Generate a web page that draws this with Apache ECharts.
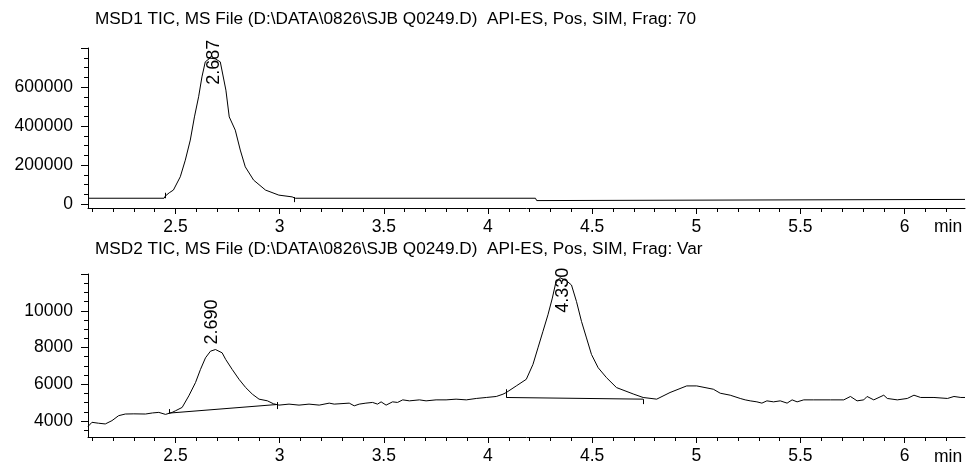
<!DOCTYPE html>
<html>
<head>
    <meta charset="utf-8">
    <title>MSD TIC</title>
    <style>
        html, body {
            margin: 0;
            padding: 0;
            background-color: #fff;
        }

        #chart {
            width: 967px;
            height: 465px;
        }
    </style>
</head>
<body>
    <div id="chart"></div>
</body>
<script type="text/javascript" src="https://cdn.jsdelivr.net/npm/echarts@6/dist/echarts.min.js"></script>
<script type="text/javascript">
    // ---- data ----
    var timeMin = 2.08, timeMax = 6.29;
    var xMajor = [2.5, 3, 3.5, 4, 4.5, 5, 5.5, 6];
    var xMinor = [2.1, 2.2, 2.3, 2.4, 2.6, 2.7, 2.8, 2.9, 3.1, 3.2, 3.3, 3.4, 3.6, 3.7, 3.8, 3.9,
        4.1, 4.2, 4.3, 4.4, 4.6, 4.7, 4.8, 4.9, 5.1, 5.2, 5.3, 5.4, 5.6, 5.7, 5.8, 5.9, 6.1, 6.2];

    // MSD1
    var msd1Ticks = [0, 200000, 400000, 600000, 800000];
    var msd1Labels = [0, 200000, 400000, 600000];
    var msd1Minor = [50000, 100000, 150000, 250000, 300000, 350000, 450000, 500000, 550000, 650000, 700000, 750000];
    var msd1Time = [2.08, 2.445, 2.452, 2.470, 2.490, 2.523, 2.547, 2.571, 2.591, 2.611, 2.627, 2.643, 2.665, 2.690,
        2.715, 2.742, 2.758, 2.787, 2.811, 2.835, 2.875, 2.932, 2.996, 3.060, 3.075, 4.228, 4.234, 4.240, 6.29];
    var msd1Signal = [30000, 30000, 42000, 58000, 72000, 140000, 225000, 328000, 447000, 550000, 652000, 729000, 748000, 745000,
        729000, 584000, 447000, 379000, 277000, 191000, 123000, 72000, 46000, 37000, 30000, 30000, 18000, 24000, 24000];
    var msd1PeakTime = [2.687];
    var msd1PeakApex = [745000];
    // integration markers: [time, from, to]
    var msd1Marks = [[2.451, 30000, 58000], [3.069, 36000, 10000]];

    // MSD2
    var msd2Ticks = [4000, 6000, 8000, 10000, 12000];
    var msd2Labels = [4000, 6000, 8000, 10000];
    var msd2Minor = [3500, 4500, 5000, 5500, 6500, 7000, 7500, 8500, 9000, 9500, 10500, 11000, 11500];
    var msd2Time = [2.08, 2.099, 2.130, 2.163, 2.195, 2.227, 2.259, 2.300, 2.356, 2.390, 2.420, 2.452, 2.484,
        2.500, 2.532, 2.564, 2.596, 2.620, 2.644, 2.668, 2.692, 2.724, 2.741, 2.772, 2.805, 2.837, 2.869, 2.901, 2.941, 2.970,
        2.997, 3.045, 3.093, 3.141, 3.190, 3.238, 3.262, 3.334, 3.358, 3.382, 3.414, 3.446, 3.470, 3.487, 3.511, 3.542,
        3.566, 3.591, 3.623, 3.671, 3.703, 3.751, 3.799, 3.847, 3.896, 3.944, 3.992, 4.040, 4.072,
        4.088, 4.136, 4.184, 4.216, 4.240, 4.264, 4.288, 4.309, 4.325, 4.345, 4.375, 4.401, 4.425, 4.449, 4.473, 4.497,
        4.529, 4.569, 4.617, 4.700, 4.745, 4.810, 4.874, 4.954, 5.002, 5.082,
        5.115, 5.163, 5.211, 5.235, 5.259, 5.291, 5.315, 5.339, 5.371, 5.403, 5.436, 5.460, 5.484, 5.516, 5.564, 5.644,
        5.708, 5.740, 5.772, 5.804, 5.820, 5.852, 5.900, 5.917, 5.965, 6.013, 6.045, 6.077, 6.141, 6.206, 6.237, 6.270, 6.29];
    var msd2Signal = [3700, 3930, 3880, 3840, 4020, 4290, 4380, 4390, 4380, 4440, 4470, 4360, 4470,
        4557, 4740, 5370, 6090, 6810, 7440, 7800, 7890, 7710, 7350, 6810, 6270, 5820, 5460, 5190, 5100, 4940,
        4865, 4919, 4865, 4919, 4865, 4973, 4919, 4973, 4827, 4919, 4973, 5011, 4919, 5043, 4865, 5043,
        5011, 5151, 5097, 5151, 5097, 5151, 5151, 5189, 5151, 5227, 5281, 5335, 5459,
        5550, 5910, 6270, 7080, 7980, 8880, 9780, 10690, 11500, 11800, 11650, 11400, 10500, 9420, 8520, 7620,
        6900, 6360, 5820, 5460, 5280, 5190, 5550, 5910, 5910, 5730,
        5513, 5405, 5227, 5151, 5097, 5043, 4973, 5097, 5043, 5097, 4973, 5151, 5043, 5151, 5151, 5151,
        5151, 5335, 5097, 5151, 5335, 5151, 5405, 5227, 5151, 5227, 5405, 5281, 5281, 5227, 5335, 5281, 5281];
    var msd2PeakTime = [2.690, 4.330];
    var msd2PeakApex = [7890, 11800];
    var msd2Base1Time = [2.468, 2.989];
    var msd2Base1Signal = [4430, 4900];
    var msd2Base2Time = [4.088, 4.745];
    var msd2Base2Signal = [5280, 5190];
    var msd2Marks = [[2.468, 4430, 4650], [2.989, 5030, 4650], [4.088, 5730, 5280], [4.745, 5190, 4920]];

    // ---- chart ----
    var FONT = "'Liberation Sans', Arial, Helvetica, sans-serif";
    var black = '#000';
    var labelSize = 17.5;

    function zip(a, b) {
        return a.map(function (t, i) { return [t, b[i]]; });
    }

    function marksToLines(marks) {
        return marks.map(function (m) {
            return [{ coord: [m[0], m[1]] }, { coord: [m[0], m[2]] }];
        });
    }

    function majorX(grid) {
        return {
            gridIndex: grid, type: 'value', position: 'bottom', min: timeMin, max: timeMax,
            axisLine: { show: true, onZero: false, lineStyle: { color: black, width: 1 } },
            axisTick: { show: true, customValues: xMajor, length: 6, lineStyle: { color: black } },
            axisLabel: {
                show: true, customValues: xMajor, margin: 10, color: black, fontSize: labelSize, fontFamily: FONT,
                formatter: function (v) { return String(v); }
            },
            splitLine: { show: false }
        };
    }

    function minorX(grid) {
        return {
            gridIndex: grid, type: 'value', position: 'bottom', min: timeMin, max: timeMax,
            axisLine: { show: false, onZero: false },
            axisTick: { show: true, customValues: xMinor, length: 4, lineStyle: { color: black } },
            axisLabel: { show: false },
            splitLine: { show: false }
        };
    }

    function majorY(grid, min, max, ticks, labels) {
        return {
            gridIndex: grid, type: 'value', position: 'left', min: min, max: max,
            axisLine: { show: true, onZero: false, lineStyle: { color: black, width: 1 } },
            axisTick: { show: true, customValues: ticks, length: 7, lineStyle: { color: black } },
            axisLabel: {
                show: true, customValues: labels, margin: 15, color: black, fontSize: labelSize, fontFamily: FONT,
                formatter: function (v) { return String(v); }
            },
            splitLine: { show: false }
        };
    }

    function minorY(grid, min, max, ticks) {
        return {
            gridIndex: grid, type: 'value', position: 'left', min: min, max: max,
            axisLine: { show: false, onZero: false },
            axisTick: { show: true, customValues: ticks, length: 4, lineStyle: { color: black } },
            axisLabel: { show: false },
            splitLine: { show: false }
        };
    }

    function peakLabels(times, apex, cfg) {
        return times.map(function (t, i) {
            return {
                coord: [t, apex[i]],
                name: t.toFixed(3),
                label: cfg[i]
            };
        });
    }

    // labels are turned 90deg, so offset runs in the turned frame ([along text, across text])
    var peakLabelStyle = {
        show: true, formatter: '{b}', rotate: 90, align: 'left', verticalAlign: 'middle',
        color: black, fontSize: 18, fontFamily: FONT
    };

    var traceStyle = { color: black, width: 1 };

    var myChart = echarts.init(document.getElementById('chart'), null, { renderer: 'canvas' });

    var option = {
        animation: false,
        backgroundColor: '#fff',
        grid: [
            { left: 88, right: 2, top: 48, height: 160 },
            { left: 88, right: 2, top: 274, height: 164 }
        ],
        xAxis: [majorX(0), minorX(0), majorX(1), minorX(1)],
        yAxis: [
            majorY(0, -20000, 800000, msd1Ticks, msd1Labels),
            minorY(0, -20000, 800000, msd1Minor),
            majorY(1, 3130, 12000, msd2Ticks, msd2Labels),
            minorY(1, 3130, 12000, msd2Minor)
        ],
        graphic: [
            { type: 'text', left: 95, top: 11, style: { text: 'MSD1 TIC, MS File (D:\\DATA\\0826\\SJB Q0249.D)  API-ES, Pos, SIM, Frag: 70', font: '17.2px ' + FONT, fill: black } },
            { type: 'text', left: 95, top: 241, style: { text: 'MSD2 TIC, MS File (D:\\DATA\\0826\\SJB Q0249.D)  API-ES, Pos, SIM, Frag: Var', font: '17.2px ' + FONT, fill: black } },
            { type: 'text', left: 934, top: 218, style: { text: 'min', font: labelSize + 'px ' + FONT, fill: black } },
            { type: 'text', left: 934, top: 448, style: { text: 'min', font: labelSize + 'px ' + FONT, fill: black } }
        ],
        series: [
            {
                type: 'line', xAxisIndex: 0, yAxisIndex: 0, data: zip(msd1Time, msd1Signal),
                symbol: 'none', lineStyle: traceStyle, silent: true,
                markPoint: {
                    symbol: 'circle', symbolSize: 0, silent: true,
                    data: peakLabels(msd1PeakTime, msd1PeakApex, [
                        Object.assign({}, peakLabelStyle, { position: 'bottom', distance: 26 })
                    ])
                },
                markLine: {
                    symbol: 'none', silent: true, label: { show: false },
                    lineStyle: { color: black, width: 1, type: 'solid' },
                    data: marksToLines(msd1Marks)
                }
            },
            {
                type: 'line', xAxisIndex: 2, yAxisIndex: 2, data: zip(msd2Time, msd2Signal),
                symbol: 'none', lineStyle: traceStyle, silent: true,
                markPoint: {
                    symbol: 'circle', symbolSize: 0, silent: true,
                    data: peakLabels(msd2PeakTime, msd2PeakApex, [
                        Object.assign({}, peakLabelStyle, { position: 'top', distance: 5, offset: [0, -3] }),
                        Object.assign({}, peakLabelStyle, { position: 'bottom', distance: 35, offset: [0, 6] })
                    ])
                },
                markLine: {
                    symbol: 'none', silent: true, label: { show: false },
                    lineStyle: { color: black, width: 1, type: 'solid' },
                    data: marksToLines(msd2Marks)
                }
            },
            {
                type: 'line', xAxisIndex: 2, yAxisIndex: 2, data: zip(msd2Base1Time, msd2Base1Signal),
                symbol: 'none', lineStyle: traceStyle, silent: true
            },
            {
                type: 'line', xAxisIndex: 2, yAxisIndex: 2, data: zip(msd2Base2Time, msd2Base2Signal),
                symbol: 'none', lineStyle: traceStyle, silent: true
            }
        ]
    };

    myChart.setOption(option);
</script>
</html>
